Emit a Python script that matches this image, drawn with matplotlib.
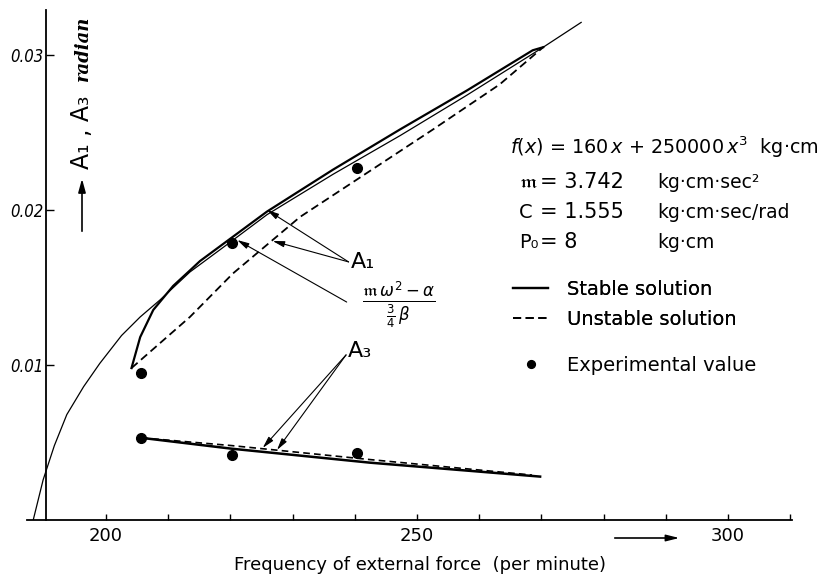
#!/usr/bin/env python3

import numpy as np
import matplotlib.pyplot as plt

# values (frequency per minute, amplitude in radian)
# backbone curve (m w^2 - a) / (3/4 b)
bb_f = [188.3, 189.9, 191.7, 193.7, 196.4, 199.0, 202.5, 205.5, 208.7, 213.5,
        219.9, 225.9, 236.5, 247.3, 258.0, 270.3, 276.4]
bb_a = [0.0, 0.0026, 0.0048, 0.0068, 0.0086, 0.0101, 0.0119, 0.0131, 0.0142, 0.0160,
        0.0179, 0.0197, 0.0223, 0.0248, 0.0274, 0.0305, 0.0321]

# A1 stable / unstable
a1s_f = [204.1, 205.5, 207.6, 210.8, 213.5, 215.1, 225.9, 236.5, 247.3, 258.0, 268.6, 270.3]
a1s_a = [0.0098, 0.0118, 0.01355, 0.0151, 0.0161, 0.0167, 0.0199, 0.0226, 0.0252, 0.0277, 0.0303, 0.0305]
a1u_f = [204.1, 213.5, 220.4, 231.2, 242.0, 252.6, 263.3, 270.3]
a1u_a = [0.0098, 0.0131, 0.0159, 0.01955, 0.0224, 0.0252, 0.0281, 0.0305]

# A3 stable / unstable
a3s_f = [205.7, 220.2, 242.4, 269.8]
a3s_a = [0.0053, 0.0046, 0.0037, 0.0028]
a3u_f = [205.7, 220.2, 242.4, 268.5]
a3u_a = [0.0053, 0.0048, 0.0039, 0.0029]

# experimental values
exp_f = [205.6, 220.3, 240.4, 205.7, 220.2, 240.4]
exp_a = [0.0095, 0.0179, 0.0227, 0.0053, 0.0042, 0.0043]

xticks = [200, 250, 300]
xticks_minor = [210, 220, 230, 240, 260, 270, 280, 290, 310]
yticks = [0.01, 0.02, 0.03]
ytick_labels = ['0.01', '0.02', '0.03']

W, H = 825, 581
def fx(px):
    return px / W
def fy(py):
    return 1 - py / H

plt.rcParams['font.family'] = ['DejaVu Sans']
plt.rcParams['mathtext.fontset'] = 'dejavusans'

fig = plt.figure(figsize=(W / 100, H / 100), dpi=100)
ax = fig.add_axes([fx(27), 61 / H, 765 / W, 510 / H])
ax.set_xlim(187.3, 310.3)
ax.set_ylim(0, 0.0329)

for s in ['top', 'right']:
    ax.spines[s].set_visible(False)
ax.spines['left'].set_position(('data', 190.4))
ax.spines['left'].set_linewidth(1.3)
ax.spines['bottom'].set_linewidth(1.3)

ax.set_xticks(xticks)
ax.set_xticks(xticks_minor, minor=True)
ax.set_xticklabels([str(t) for t in xticks], fontsize=13)
ax.tick_params(axis='x', which='both', direction='in', length=4, width=1, pad=5)
ax.set_yticks(yticks)
ax.set_yticklabels(ytick_labels, fontsize=12, style='italic', fontstretch='condensed')
ax.tick_params(axis='y', direction='in', length=6, width=1, pad=2)

# curves
ax.plot(bb_f, bb_a, color='black', lw=0.9)
st, = ax.plot(a1s_f, a1s_a, color='black', lw=1.6, label='Stable solution')
un, = ax.plot(a1u_f, a1u_a, color='black', lw=1.3, dashes=(4.5, 2.5), label='Unstable solution')
ax.plot(a3s_f, a3s_a, color='black', lw=1.8)
ax.plot(a3u_f, a3u_a, color='black', lw=1.2, dashes=(4, 2.5))
ex, = ax.plot(exp_f, exp_a, 'o', color='black', ms=7, ls='none', label='Experimental value')

# annotations
arw = dict(arrowstyle='-|>,head_length=0.7,head_width=0.18', color='black', lw=0.8,
           shrinkA=0, shrinkB=0)
ax.annotate('', xy=(225.9, 0.0200), xytext=(239.0, 0.01665), arrowprops=arw)
ax.annotate('', xy=(226.8, 0.0180), xytext=(239.0, 0.01665), arrowprops=arw)
ax.text(239.3, 0.01665, 'A₁', fontsize=16, ha='left', va='center')

ax.annotate('', xy=(221.1, 0.01806), xytext=(238.7, 0.01406), arrowprops=arw)
ax.text(247.0, 0.0139, r'$\frac{\mathfrak{m}\,\omega^2-\alpha}{\frac{3}{4}\,\beta}$',
        fontsize=17, ha='center', va='center')

ax.annotate('', xy=(225.2, 0.00465), xytext=(238.6, 0.01065), arrowprops=arw)
ax.annotate('', xy=(227.5, 0.00452), xytext=(238.6, 0.01065), arrowprops=arw)
ax.text(238.9, 0.0109, 'A₃', fontsize=16, ha='left', va='center')

# parameter block
fig.text(fx(510), fy(147), r'$f(x)$ = 160$\,x$ + 250000$\,x^3$  kg·cm', fontsize=13.8,
         ha='left', va='center')
rows = [(r'$\mathfrak{m}$', '= 3.742', 'kg·cm·sec²', 182),
        ('C', '= 1.555', 'kg·cm·sec/rad', 212),
        ('P₀', '= 8', 'kg·cm', 242)]
for sym, val, unit, py in rows:
    fig.text(fx(519), fy(py), sym, fontsize=14, ha='left', va='center')
    fig.text(fx(540), fy(py), val, fontsize=15, ha='left', va='center')
    fig.text(fx(657), fy(py), unit, fontsize=13.5, ha='left', va='center')

leg1 = fig.legend(handles=[st, un], loc='upper left', bbox_to_anchor=(fx(513), fy(280)),
                  frameon=False, fontsize=14, handlelength=1.8, handletextpad=1.0,
                  labelspacing=0.55, borderpad=0, borderaxespad=0)
fig.add_artist(leg1)
fig.legend(handles=[ex], loc='upper left', bbox_to_anchor=(fx(513), fy(356)),
           frameon=False, fontsize=14, handlelength=1.8, handletextpad=1.0,
           borderpad=0, borderaxespad=0, markerscale=0.8)

# axis labels
fig.text(fx(420), fy(565), 'Frequency of external force  (per minute)', fontsize=13,
         ha='center', va='center')
fig.add_artist(plt.Line2D([fx(615), fx(672)], [fy(538), fy(538)], color='black', lw=1.2))
ax.annotate('', xy=(fx(682), fy(538)), xytext=(fx(665), fy(538)), xycoords='figure fraction',
            arrowprops=dict(arrowstyle='-|>,head_length=0.8,head_width=0.2', color='black', lw=1))
ax.annotate('', xy=(fx(82), fy(176)), xytext=(fx(82), fy(234)), xycoords='figure fraction',
            arrowprops=dict(arrowstyle='-|>,head_length=0.8,head_width=0.22', color='black', lw=1.2))
fig.text(fx(82), fy(132), 'A₁ , A₃', fontsize=17, rotation=90, ha='center', va='center')
fig.text(fx(83), fy(48), 'radian', fontsize=13, rotation=90, ha='center', va='center',
         family='DejaVu Serif', style='italic', weight='bold')

fig.savefig('out.png', dpi=100)
